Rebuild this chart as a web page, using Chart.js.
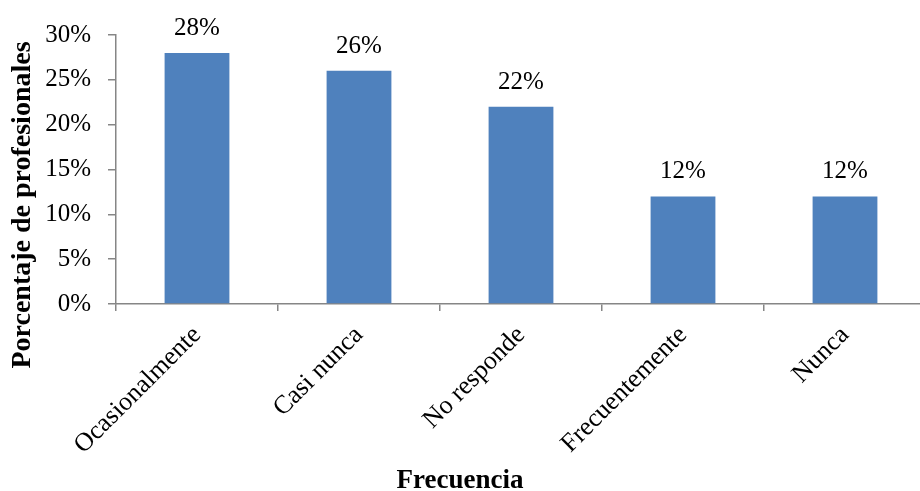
<!DOCTYPE html>
<html>
<head>
<meta charset="utf-8">
<script src="https://cdn.jsdelivr.net/npm/chart.js@4/dist/chart.umd.min.js"></script>
<style>
  html, body { margin: 0; padding: 0; background: #fff; overflow: hidden; }
  #wrap { width: 920px; height: 491px; overflow: hidden; }
</style>
</head>
<body>
<div id="wrap"><canvas id="chart" width="926" height="491"></canvas></div>
<script>
// data
let categories = ['Ocasionalmente', 'Casi nunca', 'No responde', 'Frecuentemente', 'Nunca'];
let percentages = [28, 26, 22, 12, 12];
let yTicks = [0, 5, 10, 15, 20, 25, 30];

let axisGray = '#868686';
let barBlue = '#4F81BD';
let serif = "'Liberation Serif', 'Times New Roman', serif";

// value labels above each bar
let barLabels = {
    id: 'barLabels',
    afterDatasetsDraw: function (chart) {
        let ctx = chart.ctx;
        let meta = chart.getDatasetMeta(0);
        ctx.save();
        ctx.font = '25px ' + serif;
        ctx.fillStyle = '#000';
        ctx.textAlign = 'center';
        ctx.textBaseline = 'alphabetic';
        meta.data.forEach(function (bar, i) {
            ctx.fillText(percentages[i] + '%', bar.x, bar.y - 18);
        });
        ctx.restore();
    }
};

// axis titles, placed like the original
let axisTitles = {
    id: 'axisTitles',
    afterDraw: function (chart) {
        let ctx = chart.ctx;
        ctx.save();
        ctx.font = 'bold 28px ' + serif;
        ctx.fillStyle = '#000';
        ctx.textAlign = 'center';
        ctx.textBaseline = 'middle';
        ctx.translate(23, 205);
        ctx.rotate(-Math.PI / 2);
        ctx.fillText('Porcentaje de profesionales', 0, 0);
        ctx.restore();

        ctx.save();
        ctx.font = 'bold 27px ' + serif;
        ctx.fillStyle = '#000';
        ctx.textAlign = 'center';
        ctx.textBaseline = 'alphabetic';
        ctx.fillText('Frecuencia', 460, 488);
        ctx.restore();
    }
};

new Chart(document.getElementById('chart'), {
    type: 'bar',
    data: {
        labels: categories,
        datasets: [{
            data: percentages,
            backgroundColor: barBlue,
            borderWidth: 0,
            categoryPercentage: 1,
            barPercentage: 0.4
        }]
    },
    options: {
        responsive: false,
        animation: false,
        layout: { padding: { top: 35, right: 0, bottom: 0, left: 0 } },
        plugins: {
            legend: { display: false },
            tooltip: { enabled: false }
        },
        scales: {
            x: {
                afterFit: function (scale) { scale.height = 187; },
                grid: {
                    drawOnChartArea: false,
                    color: axisGray,
                    tickLength: 7,
                    lineWidth: 1.5
                },
                border: { color: axisGray, width: 1.5 },
                ticks: {
                    autoSkip: false,
                    maxRotation: 45,
                    minRotation: 45,
                    padding: 9,
                    color: '#000',
                    font: { family: serif, size: 26 }
                }
            },
            y: {
                min: 0,
                max: 30,
                afterFit: function (scale) { scale.width = 116; },
                afterBuildTicks: function (scale) {
                    scale.ticks = yTicks.map(function (v) { return { value: v }; });
                },
                grid: {
                    drawOnChartArea: false,
                    color: axisGray,
                    tickLength: 8,
                    lineWidth: 1.5
                },
                border: { color: axisGray, width: 1.5 },
                ticks: {
                    padding: 17,
                    color: '#000',
                    font: { family: serif, size: 25 },
                    callback: function (v) { return v + '%'; }
                }
            }
        }
    },
    plugins: [barLabels, axisTitles]
});
</script>
</body>
</html>
